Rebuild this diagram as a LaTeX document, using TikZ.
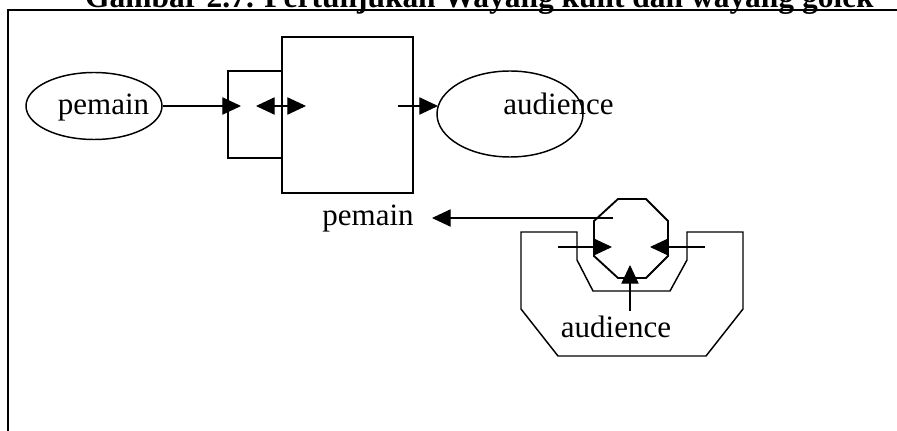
\documentclass[tikz,border=0pt]{standalone}
\usepackage{fontspec}
\setmainfont{Liberation Serif}
\usetikzlibrary{arrows.meta,shapes.geometric}
\begin{document}
\begin{tikzpicture}[x=0.75pt,y=-0.75pt,
  lbl/.style={inner sep=0pt, anchor=base, font=\fontsize{23.25pt}{28pt}\selectfont},
  ttl/.style={inner sep=0pt, anchor=base, font=\fontsize{23.6pt}{28pt}\selectfont\bfseries},
  oval/.style={draw, ellipse, line width=1.1pt, inner sep=0pt},
  thickbox/.style={draw, rectangle, line width=2.2pt, inner sep=0pt},
  arr/.style={line width=0.8pt, -{Triangle[length=14pt,width=13pt]}},
  darr/.style={line width=0.8pt, {Triangle[length=14pt,width=13pt]}-{Triangle[length=14pt,width=13pt]}},
  framel/.style={line width=1.2pt},
  cupline/.style={line width=1.1pt},
  octline/.style={line width=1.4pt},
]
\useasboundingbox (0,0) rectangle (897,431);
\clip (0,0) rectangle (897,431);

% title and frame
\node[ttl] (title) at (479.5,8) {Gambar 2.7. Pertunjukan Wayang kulit dan wayang golek};
\coordinate (f1) at (7,10);
\coordinate (f2) at (897,10);
\coordinate (f3) at (8,10);
\coordinate (f4) at (8,431);
\draw[framel] (f1) -- (f2);
\draw[framel] (f3) -- (f4);

% upper diagram
\node[oval, minimum width=102pt, minimum height=50.25pt] (pe) at (94,106) {};
\node[lbl] (petext) at (103.5,115) {pemain};
\node[thickbox, minimum width=40.5pt, minimum height=65.25pt] (small) at (255,114.5) {};
\node[thickbox, minimum width=98.25pt, minimum height=117pt] (big) at (347.5,115) {};
\node[oval, minimum width=109.5pt, minimum height=64.5pt] (au) at (510,114) {};
\node[lbl] (autext) at (558.5,115) {audience};

\coordinate (a1) at (241,106);
\coordinate (d1) at (256,106);
\coordinate (d2) at (306,106);
\coordinate (b1) at (398,106);
\coordinate (b2) at (438,106);
\draw[arr] (pe.east) -- (a1);
\draw[darr] (d1) -- (d2);
\draw[arr] (b1) -- (b2);

% lower diagram
\node[lbl] (pe2) at (368,226) {pemain};
\node[lbl] (au2) at (616,338) {audience};

\draw[cupline] (521,232) -- (521,309) -- (558,356) -- (706,356) -- (743,309)
  -- (743,232) -- (687,232) -- (687,260) -- (670,291) -- (593,291)
  -- (577,260) -- (577,232) -- cycle;

\draw[octline] (618,199) -- (646,199) -- (668,221) -- (668,256) -- (646,278)
  -- (618,278) -- (594,256) -- (594,221) -- cycle;

\coordinate (o1) at (613,218);
\coordinate (o2) at (432,218);
\coordinate (c1) at (558,247);
\coordinate (c2) at (612,247);
\coordinate (c3) at (705,247);
\coordinate (c4) at (650,247);
\coordinate (c5) at (630,311);
\coordinate (c6) at (630,265);
\draw[arr] (o1) -- (o2);
\draw[arr] (c1) -- (c2);
\draw[arr] (c3) -- (c4);
\draw[arr] (c5) -- (c6);
\end{tikzpicture}
\end{document}
